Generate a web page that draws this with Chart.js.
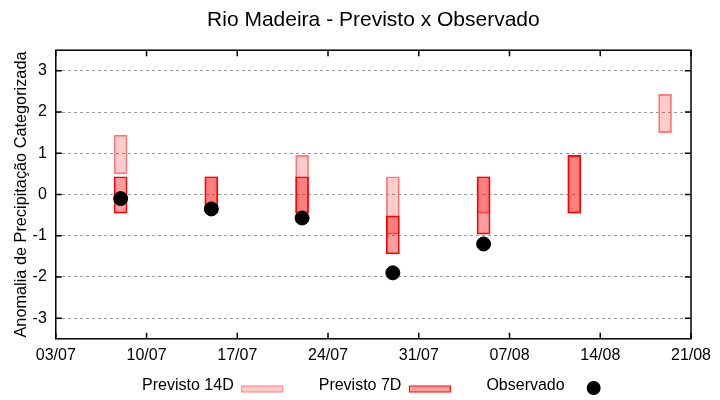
<!DOCTYPE html>
<html>
<head>
<meta charset="utf-8">
<script src="https://cdn.jsdelivr.net/npm/chart.js@4/dist/chart.umd.min.js"></script>
<style>
  html, body { margin: 0; padding: 0; background: #fff; }
  #wrap { width: 720px; height: 400px; }
</style>
</head>
<body>
<div id="wrap"><canvas id="c"></canvas></div>
<script>
// datas das previsões (dd/mm)
const dates = ['08/07', '15/07', '22/07', '29/07', '05/08', '12/08', '19/08'];
const prev14Lo = [0.5, -0.3, -0.45, -0.96, -0.45, -0.45, 1.5];
const prev14Hi = [1.44, 0.43, 0.95, 0.43, 0.43, 0.95, 2.43];
const prev7Lo = [-0.45, -0.3, -0.45, -1.44, -0.96, -0.45, null];
const prev7Hi = [0.43, 0.43, 0.43, -0.52, 0.43, 0.95, null];
const observed = [-0.1, -0.35, -0.57, -1.9, -1.2, null, null];

const xTickLabels = ['03/07', '10/07', '17/07', '24/07', '31/07', '07/08', '14/08', '21/08'];
const yTicks = [-3, -2, -1, 0, 1, 2, 3];

const FONT = 'Liberation Sans, Arial, sans-serif';

function dayNum(s) {
  const [d, m] = s.split('/').map(Number);
  return Date.UTC(2023, m - 1, d) / 86400000;
}

function ranges(lo, hi) {
  const out = [];
  dates.forEach((d, i) => {
    if (lo[i] == null || hi[i] == null) return;
    out.push({ x: dayNum(d), y: [lo[i], hi[i]] });
  });
  return out;
}

const obsPoints = [];
dates.forEach((d, i) => { if (observed[i] != null) obsPoints.push({ x: dayNum(d), y: observed[i] }); });

// moldura com ticks para dentro (estilo gnuplot)
const framePlugin = {
  id: 'frame',
  afterDatasetsDraw(chart) {
    const { ctx, chartArea: a, scales } = chart;
    const L = 6;
    ctx.save();
    ctx.strokeStyle = '#000';
    ctx.lineWidth = 1.5;
    ctx.strokeRect(a.left, a.top, a.right - a.left, a.bottom - a.top);
    ctx.beginPath();
    scales.x.ticks.forEach(t => {
      const px = scales.x.getPixelForValue(t.value);
      ctx.moveTo(px, a.bottom); ctx.lineTo(px, a.bottom - L);
      ctx.moveTo(px, a.top); ctx.lineTo(px, a.top + L);
    });
    scales.y.ticks.forEach(t => {
      const py = scales.y.getPixelForValue(t.value);
      ctx.moveTo(a.left, py); ctx.lineTo(a.left + L, py);
      ctx.moveTo(a.right, py); ctx.lineTo(a.right - L, py);
    });
    ctx.stroke();
    ctx.restore();
  }
};

// legenda embaixo: texto e depois a amostra
const legendPlugin = {
  id: 'bottomLegend',
  afterDraw(chart) {
    const { ctx, chartArea: a } = chart;
    const y = 386;
    ctx.save();
    ctx.font = '16px ' + FONT;
    ctx.textBaseline = 'middle';
    const items = chart.data.datasets.map(ds => ({ ds, w: ctx.measureText(ds.label).width }));
    const sampleW = 41, gap = 8, colGap = 36;
    let total = 0;
    items.forEach((it, i) => {
      it.sw = it.ds.type === 'scatter' ? 30 : gap + sampleW;
      total += it.w + it.sw + (i < items.length - 1 ? colGap : 0);
    });
    let x = (a.left + a.right) / 2 - total / 2 - 5;
    items.forEach(it => {
      ctx.fillStyle = '#000';
      ctx.fillText(it.ds.label, x, y);
      x += it.w;
      if (it.ds.type === 'scatter') {
        ctx.beginPath();
        ctx.arc(x + 29, y + 2, 7, 0, Math.PI * 2);
        ctx.fillStyle = '#000';
        ctx.fill();
      } else {
        ctx.fillStyle = it.ds.backgroundColor;
        ctx.fillRect(x + gap, y, sampleW, 6);
        ctx.strokeStyle = it.ds.borderColor;
        ctx.lineWidth = 1;
        ctx.strokeRect(x + gap, y, sampleW, 6);
      }
      x += it.sw + colGap;
    });
    ctx.restore();
  }
};

new Chart(document.getElementById('c'), {
  type: 'bar',
  data: {
    datasets: [
      {
        label: 'Previsto 14D',
        data: ranges(prev14Lo, prev14Hi),
        backgroundColor: 'rgba(255,0,0,0.2)',
        borderColor: '#ff7f7f',
        borderWidth: 1,
        borderSkipped: false,
        barThickness: 13,
        grouped: false,
        order: 3
      },
      {
        label: 'Previsto 7D',
        data: ranges(prev7Lo, prev7Hi),
        backgroundColor: 'rgba(255,0,0,0.38)',
        borderColor: '#ff0000',
        borderWidth: 1,
        borderSkipped: false,
        barThickness: 13,
        grouped: false,
        order: 2
      },
      {
        type: 'scatter',
        label: 'Observado',
        data: obsPoints,
        backgroundColor: '#000',
        borderColor: '#000',
        pointRadius: 7,
        order: 1
      }
    ]
  },
  options: {
    responsive: true,
    maintainAspectRatio: false,
    animation: false,
    layout: { padding: { left: 12, right: 29, top: 4, bottom: 28 } },
    plugins: {
      legend: { display: false },
      tooltip: { enabled: false },
      title: {
        display: true,
        text: 'Rio Madeira - Previsto x Observado',
        color: '#000',
        fullSize: false,
        font: { family: FONT, size: 21, weight: 'normal' },
        padding: { top: 4, bottom: 17 }
      }
    },
    scales: {
      x: {
        type: 'linear',
        offset: false,
        min: dayNum(xTickLabels[0]),
        max: dayNum(xTickLabels[xTickLabels.length - 1]),
        afterBuildTicks: s => { s.ticks = xTickLabels.map(l => ({ value: dayNum(l) })); },
        grid: { display: false, drawTicks: false },
        border: { display: false },
        ticks: {
          color: '#000',
          padding: 7,
          maxRotation: 0,
          autoSkip: false,
          font: { family: FONT, size: 16 },
          callback: (v, i) => xTickLabels[i]
        }
      },
      y: {
        min: -3.5,
        max: 3.5,
        afterBuildTicks: s => { s.ticks = yTicks.map(v => ({ value: v })); },
        grid: { color: '#9a9a9a', lineWidth: 1, drawTicks: false },
        border: { display: false, dash: [3, 3] },
        ticks: {
          color: '#000',
          padding: 9,
          font: { family: FONT, size: 16 }
        },
        title: {
          display: true,
          text: 'Anomalia de Precipitação Categorizada',
          color: '#000',
          font: { family: FONT, size: 16.3 },
          padding: { top: 0, bottom: -8 }
        }
      }
    }
  },
  plugins: [framePlugin, legendPlugin]
});
</script>
</body>
</html>
